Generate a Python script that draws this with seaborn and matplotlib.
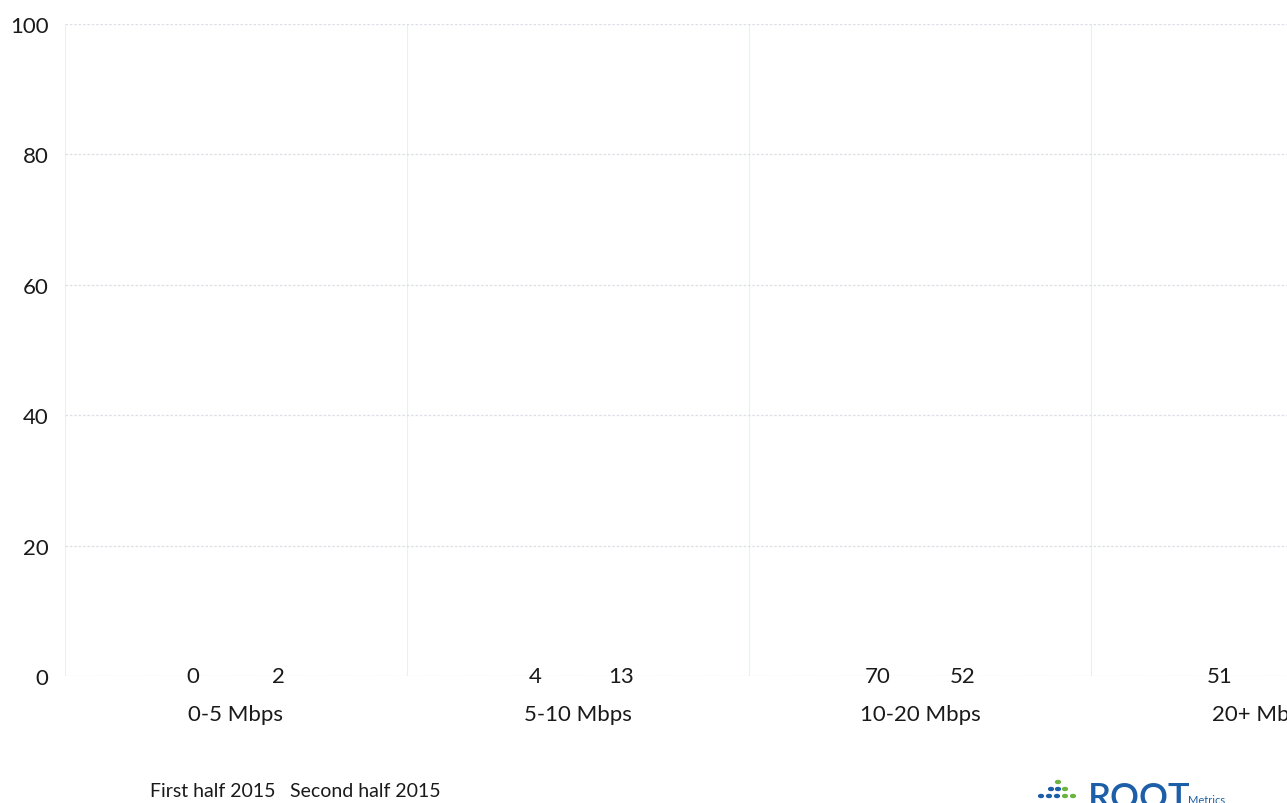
import numpy as np
import pandas as pd
import matplotlib
matplotlib.use("Agg")
import matplotlib.pyplot as plt
from matplotlib.patches import Patch, Circle
import seaborn as sns

# ---- data ----
categories = ["0-5 Mbps", "5-10 Mbps", "10-20 Mbps", "20+ Mbps"]
series_names = ["First half 2015", "Second half 2015"]
first_half = [0, 4, 70, 51]
second_half = [2, 13, 52, np.nan]  # last value is cropped out of the picture
y_ticks = [0, 20, 40, 60, 80, 100]

df = pd.DataFrame({
    "category": categories * 2,
    "period": [series_names[0]] * 4 + [series_names[1]] * 4,
    "value": first_half + second_half,
})

sns.set_theme(style="white")
plt.rcParams["font.family"] = ["Lato", "DejaVu Sans"]

W, H = 1287, 804
TXT = "#1a1a1a"
fig = plt.figure(figsize=(W / 100, H / 100), dpi=100)
# axes extends beyond the right edge (the source is cropped)
ax = fig.add_axes([65 / W, 127 / H, 1368 / W, 652 / H])

sns.barplot(data=df, x="category", y="value", hue="period",
            order=categories, hue_order=series_names,
            palette=["#ffffff", "#ffffff"], width=0.5, dodge=True,
            ax=ax, legend=False, errorbar=None)
# the bars did not print in the source: keep them but fully transparent
for cont in ax.containers:
    for bar in cont:
        bar.set_facecolor((1, 1, 1, 0))
        bar.set_edgecolor((1, 1, 1, 0))

ax.set_xlim(-0.5, len(categories) - 0.5)
ax.set_ylim(0, 100)
ax.set_yticks(y_ticks)
ax.set_xlabel("")
ax.set_ylabel("")
for s in ax.spines.values():
    s.set_visible(False)

ax.yaxis.grid(True, color="#dcdfe6", lw=0.9, ls=(0, (2, 1.5)))
ax.set_xticks(np.arange(len(categories)) - 0.5, minor=True)
ax.xaxis.grid(True, which="minor", color="#eceef2", lw=0.8)
ax.xaxis.grid(False, which="major")

ax.tick_params(axis="y", length=0, pad=12, labelsize=16, labelcolor=TXT)
ax.tick_params(axis="x", length=0, pad=20, labelsize=16, labelcolor=TXT)
ax.tick_params(axis="x", which="minor", length=0)

# value labels at the baseline
for cont in ax.containers:
    for bar in cont:
        h = bar.get_height()
        if np.isnan(h):
            continue
        ax.text(bar.get_x() + bar.get_width() / 2, 0, f"{h:.0f}",
                ha="center", va="center", fontsize=16, color=TXT,
                clip_on=False, zorder=5)

# legend (no visible swatches)
handles = [Patch(facecolor="none", edgecolor="none") for _ in series_names]
fig.legend(handles, series_names, loc="center left",
           bbox_to_anchor=(150 / W, 1 - 792 / H), ncol=2, frameon=False,
           handlelength=0, handletextpad=0, columnspacing=0.75,
           borderpad=0, borderaxespad=0, fontsize=14,
           labelcolor=TXT)

# logo (cropped at the bottom edge)
fig.text(1088 / W, 1 - 782 / H, "ROOT", color="#1d5ea8", fontsize=26,
         fontweight="semibold", va="top", ha="left")
fig.text(1188 / W, 1 - 795 / H, "Metrics", color="#1d5ea8", fontsize=8,
         va="top", ha="left")
dots = [(1058, 783, "#6cb33f"), (1051, 790, "#1d5ea8"), (1058, 790, "#1d5ea8"),
        (1065, 790, "#6cb33f"), (1041, 797, "#1d5ea8"), (1049, 797, "#1d5ea8"),
        (1057, 797, "#1d5ea8"), (1065, 797, "#6cb33f"), (1073, 797, "#6cb33f")]
for x, y, c in dots:
    fig.patches.append(Circle((x / W, 1 - y / H), 2.4 / W, color=c,
                              transform=fig.transFigure, figure=fig))

fig.savefig("out.png", dpi=100)
